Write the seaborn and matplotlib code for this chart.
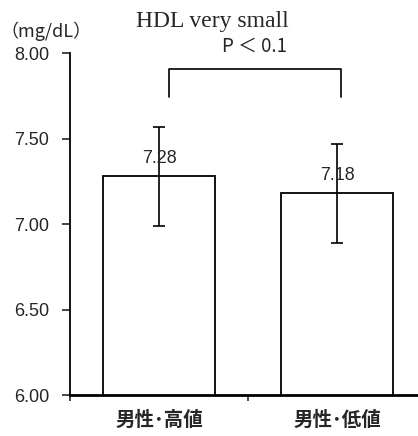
import matplotlib
matplotlib.use("Agg")
import matplotlib.pyplot as plt
import seaborn as sns
import pandas as pd
import numpy as np

categories = ["男性･高値", "男性･低値"]
values = [7.28, 7.18]
errors = [0.29, 0.29]
yticks = [6.00, 6.50, 7.00, 7.50, 8.00]
title = "HDL very small"
unit = "（mg/dL）"
p_text = "P ＜ 0.1"

sns.set_theme(style="white")
plt.rcParams['font.family'] = ['Liberation Sans', 'Noto Sans CJK JP', 'DejaVu Sans']

fig = plt.figure(figsize=(4.18, 4.36), dpi=100)
ax = fig.add_axes([70/418, 1-395/436, 1-70/418, (395-53)/436])

df = pd.DataFrame({"cat": categories, "val": values})
sns.barplot(data=df, x="cat", y="val", ax=ax, color="white", edgecolor="black",
            linewidth=1.3, width=0.63, errorbar=None)
ax.errorbar(range(len(categories)), values, yerr=errors, fmt="none",
            ecolor="black", elinewidth=1.2, capsize=4, capthick=1.2)

for i, v in enumerate(values):
    ax.text(i, v + 0.105, f"{v:.2f}", ha="center", va="center", fontsize=13)

ax.set_yticks(yticks)
ax.set_yticklabels([f"{t:.2f}" for t in yticks], fontsize=13)
ax.set_xticks(range(len(categories)))
ax.set_xticklabels(categories, fontsize=14, fontweight="bold",
                   family=['Noto Sans CJK JP', 'DejaVu Sans'])
ax.tick_params(axis="x", length=0, pad=11)
ax.set_xticks([-0.5, 0.5, 1.5], minor=True)
ax.tick_params(axis="x", which="minor", length=4, width=1.2, direction="out", bottom=True)
ax.tick_params(axis="y", length=6, width=1.2, direction="out", left=True, pad=9)
ax.set_ylim(6.0, 8.0)
ax.set_xlim(-0.5, 1.455)
ax.set_xlabel("")
ax.set_ylabel("")
for s in ["top", "right"]:
    ax.spines[s].set_visible(False)
ax.spines["left"].set_linewidth(1.3)
ax.spines["bottom"].set_linewidth(2.0)
ax.spines["left"].set_color("black")
ax.spines["bottom"].set_color("black")

# significance bracket
xa, xb = 0.055, 1.02
y_top, y_bot = 7.906, 7.74
ax.plot([xa, xa, xb, xb], [y_bot, y_top, y_top, y_bot], color="black", lw=1.2, clip_on=False)
ax.text((xa + xb) / 2, 8.04, p_text, ha="center", va="center", fontsize=13.5,
        family=['Noto Sans CJK JP', 'DejaVu Sans'])

fig.text(212/418, 1-22/436, title, ha="center", va="center", fontsize=17,
         family="Liberation Serif")
fig.text(46/418, 1-31/436, unit, ha="center", va="center", fontsize=13,
         family=['Noto Sans CJK JP', 'DejaVu Sans'])

fig.savefig("out.png", dpi=100)
